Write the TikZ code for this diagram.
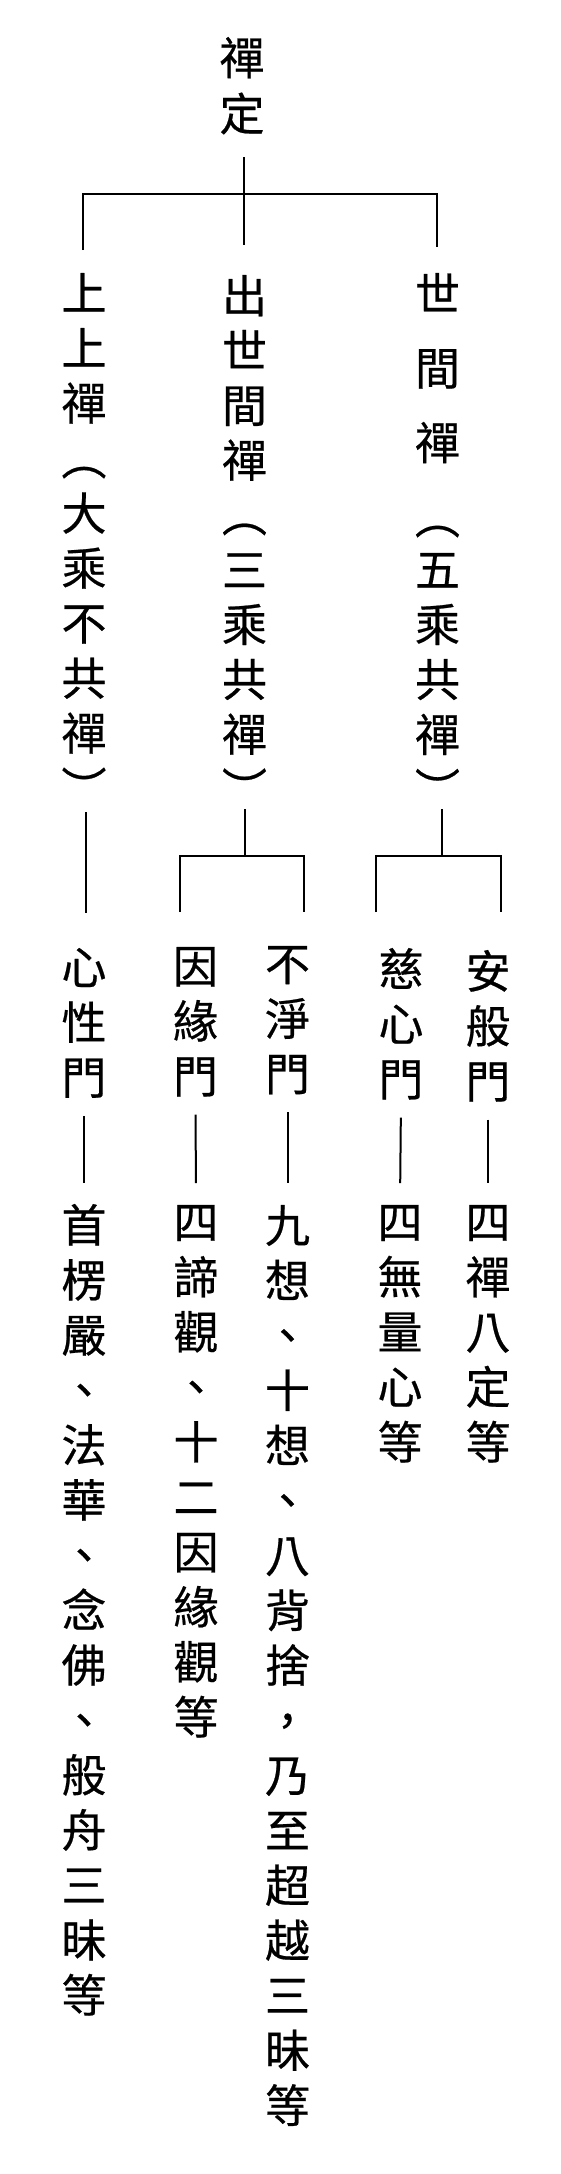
\documentclass[tikz,border=0pt]{standalone}
\usepackage{fontspec}
\newfontfamily\cjk{Noto Sans CJK TC}[FakeBold=0.5]
\makeatletter
\newcommand\vstack[2]{\vtop{\baselineskip=#1\relax\lineskiplimit=-\maxdimen\lineskip=0pt\relax\vs@loop#2\relax}}
\def\vs@loop#1{\ifx\relax#1\else\hbox to 50pt{\hss#1\hss}\expandafter\vs@loop\fi}
\makeatother
\begin{document}
\begin{tikzpicture}[x=1pt,y=-1pt,
  txt/.style={inner sep=0pt,outer sep=0pt,anchor=north,font=\cjk\fontsize{45pt}{55pt}\selectfont},
  ln/.style={line width=2pt,black}]
\useasboundingbox[fill=white] (0,0) rectangle (561,2174);
% root
\node[txt] (r) at (242,37) {\vstack{56pt}{禪定}};
% level 1
\node[txt] (c1) at (84,273) {\vstack{55pt}{上上禪︵大乘不共禪︶}};
\node[txt] (c2) at (244.5,275) {\vstack{54.8pt}{出世間禪︵三乘共禪︶}};
\node[txt] (c3) at (437.5,273) {\vstack{74.5pt}{世間禪︵}};
\node[txt] (c3b) at (437.5,553) {\vstack{55pt}{五乘共禪︶}};
% level 2
\node[txt] (d1) at (84,948) {\vstack{55pt}{心性門}};
\node[txt] (d2) at (195.5,947) {\vstack{55pt}{因緣門}};
\node[txt] (d3) at (287.5,946) {\vstack{55pt}{不淨門}};
\node[txt] (d4) at (401,948) {\vstack{55pt}{慈心門}};
\node[txt] (d5) at (488,950) {\vstack{55pt}{安般門}};
% level 3
\node[txt] (e1) at (84,1204) {\vstack{55pt}{首楞嚴、法華、念佛、般舟三昧等}};
\node[txt] (e2) at (196,1205) {\vstack{55pt}{四諦觀、十二因緣觀等}};
\node[txt] (e3) at (287.5,1205) {\vstack{55pt}{九想、十想、八背捨，乃至超越三昧等}};
\node[txt] (e4) at (400,1205) {\vstack{55pt}{四無量心等}};
\node[txt] (e5) at (488,1205) {\vstack{55pt}{四禪八定等}};
% tree 1
\coordinate (t0) at (244,157);
\coordinate (t1) at (244,245);
\coordinate (h1) at (244,194);
\coordinate (tL) at (83.3,250);
\coordinate (tR) at (437.3,247);
\draw[ln] (t0) -- (t1);
\draw[ln] (tL) |- (h1) -| (tR);
% left branch
\coordinate (u0) at (85.7,812);
\coordinate (u1) at (85.7,913);
\draw[ln] (u0) -- (u1);
% middle branch
\coordinate (m0) at (245,809);
\coordinate (mh) at (245,856);
\coordinate (mL) at (180,912);
\coordinate (mR) at (304.3,912);
\draw[ln] (m0) -- (mh);
\draw[ln] (mL) |- (mh) -| (mR);
% right branch
\coordinate (s0) at (441.7,809);
\coordinate (sh) at (441.7,855.5);
\coordinate (sL) at (376,912);
\coordinate (sR) at (500.7,912);
\draw[ln] (s0) -- (sh);
\draw[ln] (sL) |- (sh) -| (sR);
% gate to content
\draw[ln,shorten <=18pt,shorten >=21pt] (d1.south) -- (e1.north);
\draw[ln,shorten <=18pt,shorten >=22pt] (d2.south) -- (e2.north);
\draw[ln,shorten <=18pt,shorten >=22pt] (d3.south) -- (e3.north);
\draw[ln,shorten <=18pt,shorten >=22pt] (d4.south) -- (e4.north);
\draw[ln,shorten <=18pt,shorten >=22pt] (d5.south) -- (e5.north);
\end{tikzpicture}
\end{document}
